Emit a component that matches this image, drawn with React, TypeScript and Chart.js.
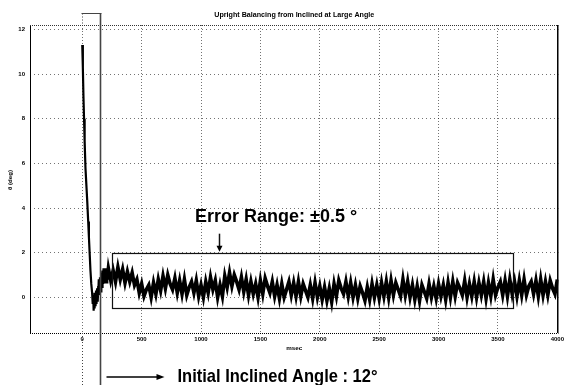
import React, { useEffect, useRef } from "react";
import { Chart, registerables } from "chart.js";

Chart.register(...registerables);

const TITLE = "Upright Balancing from Inclined at Large Angle";
const X_LABEL = "msec";
const Y_LABEL = "θ (deg)";
const ERROR_TEXT = "Error Range: ±0.5 °";
const INITIAL_TEXT = "Initial Inclined Angle : 12°";

const X_TICKS = [0, 500, 1000, 1500, 2000, 2500, 3000, 3500, 4000];
const Y_TICKS = [0, 2, 4, 6, 8, 10, 12];
const X_MIN = -440;
const X_MAX = 4010;
const Y_MIN = -1.6;
const Y_MAX = 12.2;

// initial fall from the inclined angle (msec, deg)
const TRANSIENT_TIMES = [
  0, 5, 10, 15, 20, 27, 35, 42, 50, 56, 63, 69, 76, 83, 88, 92, 96, 100, 104,
  108, 112, 116, 120, 125, 130, 135, 140, 145, 150, 155, 160, 165, 170, 175,
  180, 185, 190, 195, 200, 205, 210,
];
const TRANSIENT_VALUES = [
  11.3, 10.3, 9.0, 8.0, 7.0, 5.8, 5.0, 4.3, 3.4, 2.7, 1.9, 1.2, 0.6, 0.2, -0.3,
  0.1, -0.6, 0.0, -0.5, 0.2, -0.4, 0.3, -0.3, 0.4, -0.2, 0.5, 0.1, 0.8, 0.3,
  0.9, 0.5, 1.1, 0.6, 1.2, 0.7, 1.3, 0.8, 1.2, 0.7, 1.3, 0.8,
];

// balancing phase, sampled every 20 msec from 220 msec
const STEADY_START = 220;
const STEADY_STEP = 20;
const STEADY_VALUES = [
  1.3, 0.75, 1.2, 0.7, 1.35, 0.8, 1.25, 0.65, 1.15, 0.7,
  1.1, 0.55, 0.8, 0.2, 0.6, 0.05, 0.35, 0.55, 0.0, 0.65,
  0.15, 0.8, 0.3, 0.95, 0.4, 1.0, 0.6, 0.35, 0.85, 0.2,
  0.75, 0.15, 0.8, 0.1, 0.45, 0.7, 0.2, 0.75, 0.05, 0.55,
  0.0, 0.7, 0.2, 0.9, 0.35, 0.75, 0.0, 0.55, 0.05, 0.95,
  0.45, 1.1, 0.5, 1.0, 0.7, 0.35, 0.9, 0.25, 0.8, 0.1,
  0.7, 0.15, 0.6, 0.0, 0.75, 0.15, 0.85, 0.5, 0.2, 0.7,
  0.05, 0.55, -0.05, 0.6, 0.0, 0.35, 0.7, 0.1, 0.65, 0.05,
  0.7, 0.05, 0.6, 0.3, 0.0, 0.55, -0.05, 0.65, 0.0, 0.5,
  -0.1, 0.45, -0.15, 0.4, -0.2, 0.6, 0.05, 0.75, 0.4, 0.15,
  0.7, 0.05, 0.65, 0.0, 0.55, -0.05, 0.5, 0.2, -0.15, 0.45,
  -0.1, 0.6, 0.0, 0.55, -0.05, 0.65, 0.05, 0.7, 0.0, 0.75,
  0.1, 0.65, 0.35, 0.05, 0.8, 0.1, 0.7, 0.0, 0.55, -0.1,
  0.5, -0.15, 0.55, 0.25, -0.05, 0.6, 0.0, 0.5, -0.05, 0.6,
  0.05, 0.55, -0.1, 0.65, 0.0, 0.7, 0.05, 0.65, 0.4, 0.1,
  0.75, 0.0, 0.6, 0.05, 0.7, 0.0, 0.65, 0.1, 0.7, -0.05,
  0.65, 0.05, 0.8, 0.1, 0.45, 0.7, 0.1, 0.75, 0.05, 0.8,
  0.15, 0.7, 0.05, 0.75, 0.1, 0.8, 0.1, 0.5, 0.7, 0.15,
  0.75, 0.05, 0.8, 0.1, 0.7, 0.1, 0.75, 0.4, 0.15, 0.8,
];

// annotation anchors in data units
const ERROR_BOX = { x0: 250, x1: 3630, y0: -0.45, y1: 2.0 };
const ERROR_LABEL = { x: 950, y: 3.6, arrowX: 1150, arrowTop: 2.85 };
const INITIAL_BOX = { x0: 0, x1: 153, yTop: 12.75 };

const FONT = "'Liberation Sans', Arial, sans-serif";
const NARROW = "'Liberation Sans Narrow', 'Liberation Sans', Arial, sans-serif";

function fitText(
  ctx: CanvasRenderingContext2D,
  text: string,
  x: number,
  y: number,
  width: number,
  align: "left" | "center"
) {
  const w = ctx.measureText(text).width;
  const s = w > 0 ? width / w : 1;
  ctx.save();
  ctx.translate(x, y);
  ctx.scale(s, 1);
  ctx.textAlign = align;
  ctx.textBaseline = "middle";
  ctx.fillText(text, 0, 0);
  ctx.restore();
}

function seg(ctx: CanvasRenderingContext2D, x1: number, y1: number, x2: number, y2: number) {
  ctx.beginPath();
  ctx.moveTo(x1, y1);
  ctx.lineTo(x2, y2);
  ctx.stroke();
}

const overlay = {
  id: "overlay",
  afterDraw(chart: any) {
    const { ctx, chartArea: a, scales } = chart;
    const xs = scales.x;
    const ys = scales.y;
    const H = chart.height;
    ctx.save();
    ctx.fillStyle = "#000";
    ctx.strokeStyle = "#000";

    // frame
    ctx.lineWidth = 1;
    ctx.setLineDash([]);
    seg(ctx, a.left + 0.5, a.top, a.left + 0.5, a.bottom);
    ctx.lineWidth = 1.5;
    seg(ctx, a.right - 0.75, a.top, a.right - 0.75, a.bottom);
    ctx.lineWidth = 1;
    ctx.strokeStyle = "#333";
    ctx.setLineDash([1, 1]);
    seg(ctx, a.left, a.top + 0.5, a.right, a.top + 0.5);
    ctx.strokeStyle = "#000";
    seg(ctx, a.left, a.bottom + 0.5, a.right, a.bottom + 0.5);
    ctx.setLineDash([]);

    // title and axis titles
    ctx.font = `bold 7px ${FONT}`;
    fitText(ctx, TITLE, (a.left + a.right) / 2, 15, 160, "center");
    ctx.font = `bold 6px ${FONT}`;
    fitText(ctx, X_LABEL, (a.left + a.right) / 2, 348, 16, "center");
    ctx.save();
    ctx.translate(10, 180);
    ctx.rotate(-Math.PI / 2);
    fitText(ctx, Y_LABEL, 0, 0, 20, "center");
    ctx.restore();

    // error range box
    const bx0 = xs.getPixelForValue(ERROR_BOX.x0);
    const bx1 = xs.getPixelForValue(ERROR_BOX.x1);
    const by0 = ys.getPixelForValue(ERROR_BOX.y0);
    const by1 = ys.getPixelForValue(ERROR_BOX.y1);
    ctx.lineWidth = 1.2;
    ctx.strokeStyle = "#111";
    ctx.strokeRect(Math.round(bx0) + 0.5, Math.round(by1) + 0.5, Math.round(bx1 - bx0), Math.round(by0 - by1));

    // error label + arrow
    ctx.font = `bold 18px ${NARROW}`;
    fitText(ctx, ERROR_TEXT, xs.getPixelForValue(ERROR_LABEL.x), ys.getPixelForValue(ERROR_LABEL.y), 162, "left");
    const ax = Math.round(xs.getPixelForValue(ERROR_LABEL.arrowX)) + 0.5;
    const aTop = ys.getPixelForValue(ERROR_LABEL.arrowTop);
    ctx.lineWidth = 1.5;
    seg(ctx, ax, aTop, ax, by1 - 5);
    ctx.beginPath();
    ctx.moveTo(ax - 3, by1 - 7);
    ctx.lineTo(ax + 3, by1 - 7);
    ctx.lineTo(ax, by1 - 1);
    ctx.closePath();
    ctx.fill();

    // initial angle box
    const ix0 = Math.round(xs.getPixelForValue(INITIAL_BOX.x0)) + 0.5;
    const ix1 = Math.round(xs.getPixelForValue(INITIAL_BOX.x1)) + 0.5;
    const iTop = Math.round(ys.getPixelForValue(INITIAL_BOX.yTop)) + 0.5;
    ctx.strokeStyle = "#444";
    ctx.lineWidth = 1;
    seg(ctx, ix0 - 1, iTop, ix1 + 1, iTop);
    ctx.lineWidth = 1.6;
    seg(ctx, ix1, iTop, ix1, H);
    ctx.lineWidth = 1;
    ctx.setLineDash([1, 2]);
    seg(ctx, ix0, iTop, ix0, a.top);
    seg(ctx, ix0, a.bottom, ix0, H);
    ctx.setLineDash([]);

    // initial angle arrow and label
    const ay = 377;
    ctx.strokeStyle = "#000";
    ctx.lineWidth = 1.5;
    seg(ctx, ix1 + 6, ay, ix1 + 58, ay);
    ctx.beginPath();
    ctx.moveTo(ix1 + 56, ay - 3);
    ctx.lineTo(ix1 + 64, ay);
    ctx.lineTo(ix1 + 56, ay + 3);
    ctx.closePath();
    ctx.fill();
    ctx.font = `bold 19px ${NARROW}`;
    fitText(ctx, INITIAL_TEXT, ix1 + 77, ay, 200, "left");

    ctx.restore();
  },
};

export default function App() {
  const ref = useRef<HTMLCanvasElement>(null);
  useEffect(() => {
    document.body.style.margin = "0";
    const canvas = ref.current!;
    const points = [
      ...TRANSIENT_TIMES.map((t, i) => ({ x: t, y: TRANSIENT_VALUES[i] })),
      ...STEADY_VALUES.map((v, i) => ({ x: STEADY_START + i * STEADY_STEP, y: v })),
    ];
    const tickFont = { family: FONT, size: 6, weight: "bold" as const };
    const chart = new Chart(canvas, {
      type: "line",
      data: {
        datasets: [
          {
            data: points,
            borderColor: "#000",
            borderWidth: 2.2,
            pointRadius: 0,
            tension: 0,
            segment: {
              borderWidth: (c: any) => (c.p0.parsed.x >= 140 ? 3.6 : 2.2),
            },
          },
        ],
      },
      options: {
        responsive: false,
        animation: false,
        events: [],
        layout: { padding: { top: 25, right: 1, left: 0, bottom: 0 } },
        plugins: { legend: { display: false }, tooltip: { enabled: false }, title: { display: false } },
        scales: {
          x: {
            type: "linear",
            min: X_MIN,
            max: X_MAX,
            afterBuildTicks: (s: any) => {
              s.ticks = X_TICKS.map((v) => ({ value: v }));
            },
            afterFit: (s: any) => {
              s.height = 52;
            },
            ticks: {
              color: "#000",
              font: tickFont,
              padding: 3,
              maxRotation: 0,
              autoSkip: false,
              callback: (v: any) => String(v),
            },
            grid: { color: "rgba(0,0,0,0.55)", lineWidth: 1, drawTicks: false },
            border: { display: false, dash: [1, 2] },
          },
          y: {
            type: "linear",
            min: Y_MIN,
            max: Y_MAX,
            afterBuildTicks: (s: any) => {
              s.ticks = Y_TICKS.map((v) => ({ value: v }));
            },
            afterFit: (s: any) => {
              s.width = 30;
            },
            ticks: { color: "#000", font: tickFont, padding: 5, autoSkip: false, callback: (v: any) => String(v) },
            grid: { color: "rgba(0,0,0,0.55)", lineWidth: 1, drawTicks: false },
            border: { display: false, dash: [1, 3] },
          },
        },
      },
      plugins: [overlay],
    });
    return () => chart.destroy();
  }, []);
  return (
    <div style={{ width: 567, height: 385 }}>
      <canvas ref={ref} width={567} height={385} style={{ display: "block" }} />
    </div>
  );
}
